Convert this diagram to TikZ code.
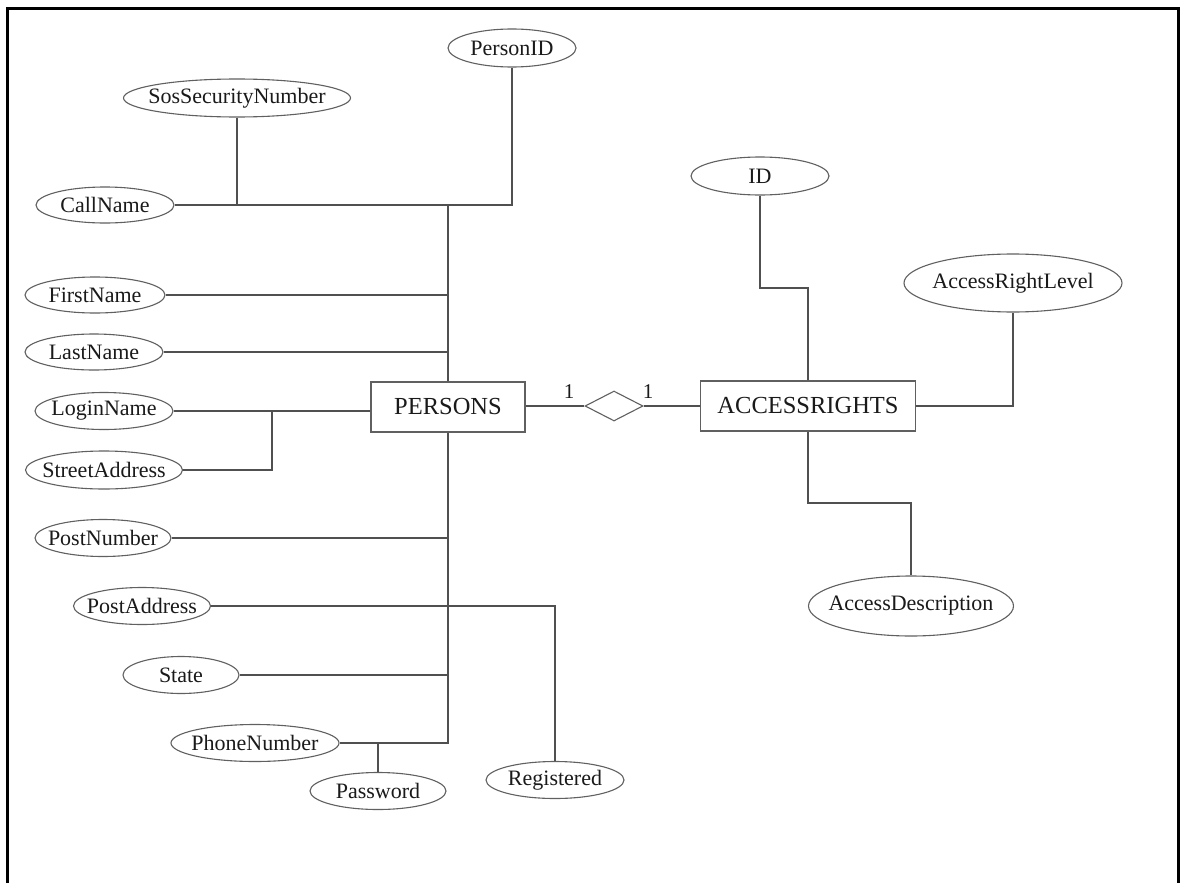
\documentclass[tikz,border=0pt]{standalone}
\usepackage{fontspec}
\setmainfont{Liberation Serif}
\usetikzlibrary{shapes.geometric}

\definecolor{edgegray}{HTML}{505050}
\definecolor{shapegray}{HTML}{606060}
\definecolor{inkgray}{HTML}{1A1A1A}

% label set in a zero-width box, so the ellipse keeps its given size
\newcommand{\attrlabel}[1]{\makebox[0pt][c]{#1}}

\tikzset{
  attr/.style={ellipse, draw=shapegray, line width=1.1pt, inner sep=0pt,
    text=inkgray, font=\fontsize{22}{25}\selectfont},
  entity/.style={rectangle, draw=shapegray, line width=1.4pt, inner sep=0pt,
    minimum width=#1, minimum height=50, text=inkgray,
    font=\fontsize{24.5}{28}\selectfont},
  relation/.style={diamond, draw=shapegray, line width=1.1pt, inner sep=0pt,
    minimum width=58, minimum height=30},
  card/.style={inner sep=0pt, text=inkgray, font=\fontsize{21}{24}\selectfont},
  link/.style={draw=edgegray, line width=1.3pt},
  framerule/.style={draw=black, line width=3pt}
}

\begin{document}
\begin{tikzpicture}[x=1pt, y=-1pt]
  \useasboundingbox (0,0) rectangle (1180,883);
  \fill[white] (0,0) rectangle (1180,883);

  % outer frame, open at the bottom
  \draw[framerule] (7,883) -- (7,9) -- (1178,9) -- (1178,883);

  % entities and relationship
  \node[entity=154] (PERSONS) at (448,407) {PERSONS};
  \node[entity=215] (ACCESSRIGHTS) at (808,406) {ACCESSRIGHTS};
  \node[relation] (rel) at (614,406) {};
  \node[card] (cardL) at (569,392) {1};
  \node[card] (cardR) at (648,392) {1};

  % attributes of PERSONS
  \node[attr, minimum width=128, minimum height=38] (PersonID) at (512,48) {\attrlabel{PersonID}};
  \node[attr, minimum width=227, minimum height=38] (SosSecurityNumber) at (237,98) {\attrlabel{SosSecurityNumber}};
  \node[attr, minimum width=138, minimum height=36] (CallName) at (105,205) {\attrlabel{CallName}};
  \node[attr, minimum width=140, minimum height=36] (FirstName) at (95,295) {\attrlabel{FirstName}};
  \node[attr, minimum width=138, minimum height=36] (LastName) at (94,352) {\attrlabel{LastName}};
  \node[attr, minimum width=138, minimum height=37] (LoginName) at (104,411) {\attrlabel{LoginName}};
  \node[attr, minimum width=157, minimum height=38] (StreetAddress) at (104,470) {\attrlabel{StreetAddress}};
  \node[attr, minimum width=136, minimum height=37] (PostNumber) at (103,538) {\attrlabel{PostNumber}};
  \node[attr, minimum width=137, minimum height=37] (PostAddress) at (142,606) {\attrlabel{PostAddress}};
  \node[attr, minimum width=116, minimum height=37] (State) at (181,675) {\attrlabel{State}};
  \node[attr, minimum width=168, minimum height=37] (PhoneNumber) at (255,743) {\attrlabel{PhoneNumber}};
  \node[attr, minimum width=136, minimum height=37] (Password) at (378,791) {\attrlabel{Password}};
  \node[attr, minimum width=138, minimum height=37] (Registered) at (555,780) {\attrlabel{Registered}};

  % attributes of ACCESSRIGHTS
  \node[attr, minimum width=138, minimum height=38] (ID) at (760,176) {\attrlabel{ID}};
  \node[attr, minimum width=218, minimum height=58] (AccessRightLevel) at (1013,283) {\attrlabel{AccessRightLevel}};
  \node[attr, minimum width=205, minimum height=60] (AccessDescription) at (911,606) {\attrlabel{AccessDescription}};

  % bend points
  \coordinate (saBend) at (272,470);
  \coordinate (idBend) at (0,288);
  \coordinate (adBend) at (0,503);

  % PERSONS connectors
  \draw[link] (CallName.east) -- (PersonID.south |- CallName.east) -- (PersonID.south);
  \draw[link] (SosSecurityNumber.south) -- (SosSecurityNumber.south |- CallName.east);
  \draw[link] (PERSONS.north) -- (PERSONS.north |- CallName.east);
  \draw[link] (FirstName.east) -- (FirstName.east -| PERSONS.north);
  \draw[link] (LastName.east) -- (LastName.east -| PERSONS.north);
  \draw[link] (LoginName.east) -- (LoginName.east -| PERSONS.west);
  \draw[link] (StreetAddress.east) -- (saBend) -- (saBend |- LoginName.east);
  \draw[link] (PERSONS.south) -- (PERSONS.south |- PhoneNumber.east) -- (PhoneNumber.east);
  \draw[link] (PostNumber.east) -- (PostNumber.east -| PERSONS.south);
  \draw[link] (State.east) -- (State.east -| PERSONS.south);
  \draw[link] (Password.north) -- (Password.north |- PhoneNumber.east);
  \draw[link] (PostAddress.east) -- (Registered.north |- PostAddress.east) -- (Registered.north);

  % relationship connectors
  \draw[link] (rel.west) -- (rel.west -| PERSONS.east);
  \draw[link] (rel.east) -- (rel.east -| ACCESSRIGHTS.west);

  % ACCESSRIGHTS connectors
  \draw[link] (ID.south) -- (ID.south |- idBend) -- (ACCESSRIGHTS.north |- idBend) -- (ACCESSRIGHTS.north);
  \draw[link] (ACCESSRIGHTS.east) -- (AccessRightLevel.south |- ACCESSRIGHTS.east) -- (AccessRightLevel.south);
  \draw[link] (ACCESSRIGHTS.south) -- (ACCESSRIGHTS.south |- adBend) -- (AccessDescription.north |- adBend) -- (AccessDescription.north);
\end{tikzpicture}
\end{document}
